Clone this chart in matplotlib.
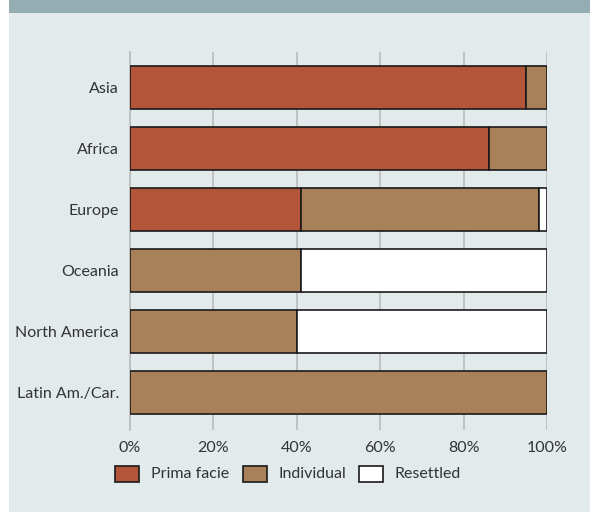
import numpy as np
import matplotlib.pyplot as plt
from matplotlib.patches import Rectangle

plt.rcParams['font.family'] = ['Lato', 'DejaVu Sans']

regions = ['Asia', 'Africa', 'Europe', 'Oceania', 'North America', 'Latin Am./Car.']
prima_facie = [95, 86, 41, 0, 0, 0]
individual = [5, 14, 57, 41, 40, 100]
resettled = [0, 0, 2, 59, 60, 0]
series_names = ['Prima facie', 'Individual', 'Resettled']

bg = '#E2EAEC'
header = '#93ADB2'
colors = ['#B35538', '#A88059', '#FFFFFF']
txt = '#333333'

W, H = 590, 512
fig = plt.figure(figsize=(W / 100, H / 100), dpi=100)
fig.patch.set_facecolor('white')
fig.patches.append(Rectangle((9 / W, 0), 1 - 9 / W, 1, transform=fig.transFigure,
                             facecolor=bg, edgecolor='none', zorder=-10))
fig.patches.append(Rectangle((9 / W, 1 - 13 / H), 1 - 9 / W, 13 / H, transform=fig.transFigure,
                             facecolor=header, edgecolor='none', zorder=-9))

# axes: x 130..547, y 52..430
ax = fig.add_axes([130 / W, 1 - 430 / H, 417 / W, 378 / H])
ax.set_facecolor('none')

y = np.arange(len(regions))
left = np.zeros(len(regions))
for vals, c in zip([prima_facie, individual, resettled], colors):
    v = np.array(vals, dtype=float)
    mask = v > 0
    ax.barh(y[mask], v[mask], left=left[mask], height=0.705, color=c,
            edgecolor='#1a1a1a', linewidth=1.2, zorder=3)
    left += v

ax.set_xlim(0, 100)
ax.set_ylim(5 + 37.5 / 61, -35.5 / 61)
ax.set_xticks(range(0, 101, 20))
ax.set_xticklabels([f'{t}%' for t in range(0, 101, 20)], fontsize=11.5, color=txt)
ax.set_yticks(y)
ax.set_yticklabels(regions, fontsize=11.5, color=txt)
ax.tick_params(axis='x', length=0, pad=8)
ax.tick_params(axis='y', length=0, pad=8)
ax.grid(axis='x', color='#BBBBBB', linewidth=1.2, zorder=0)
for s in ['top', 'right', 'bottom']:
    ax.spines[s].set_visible(False)
ax.spines['left'].set_color('#BBBBBB')
ax.spines['left'].set_linewidth(1.2)

# legend laid out by hand to match the spacing of the original
leg_x = [115, 243, 359]
for x0, c, name in zip(leg_x, colors, series_names):
    fig.patches.append(Rectangle((x0 / W, 1 - 482 / H), 24 / W, 16 / H,
                                 transform=fig.transFigure, facecolor=c,
                                 edgecolor='#1a1a1a', linewidth=1.2))
    fig.text((x0 + 36) / W, 1 - 474 / H, name, fontsize=11.5, color=txt,
             ha='left', va='center')

fig.savefig('out.png', dpi=100, facecolor=fig.get_facecolor())
